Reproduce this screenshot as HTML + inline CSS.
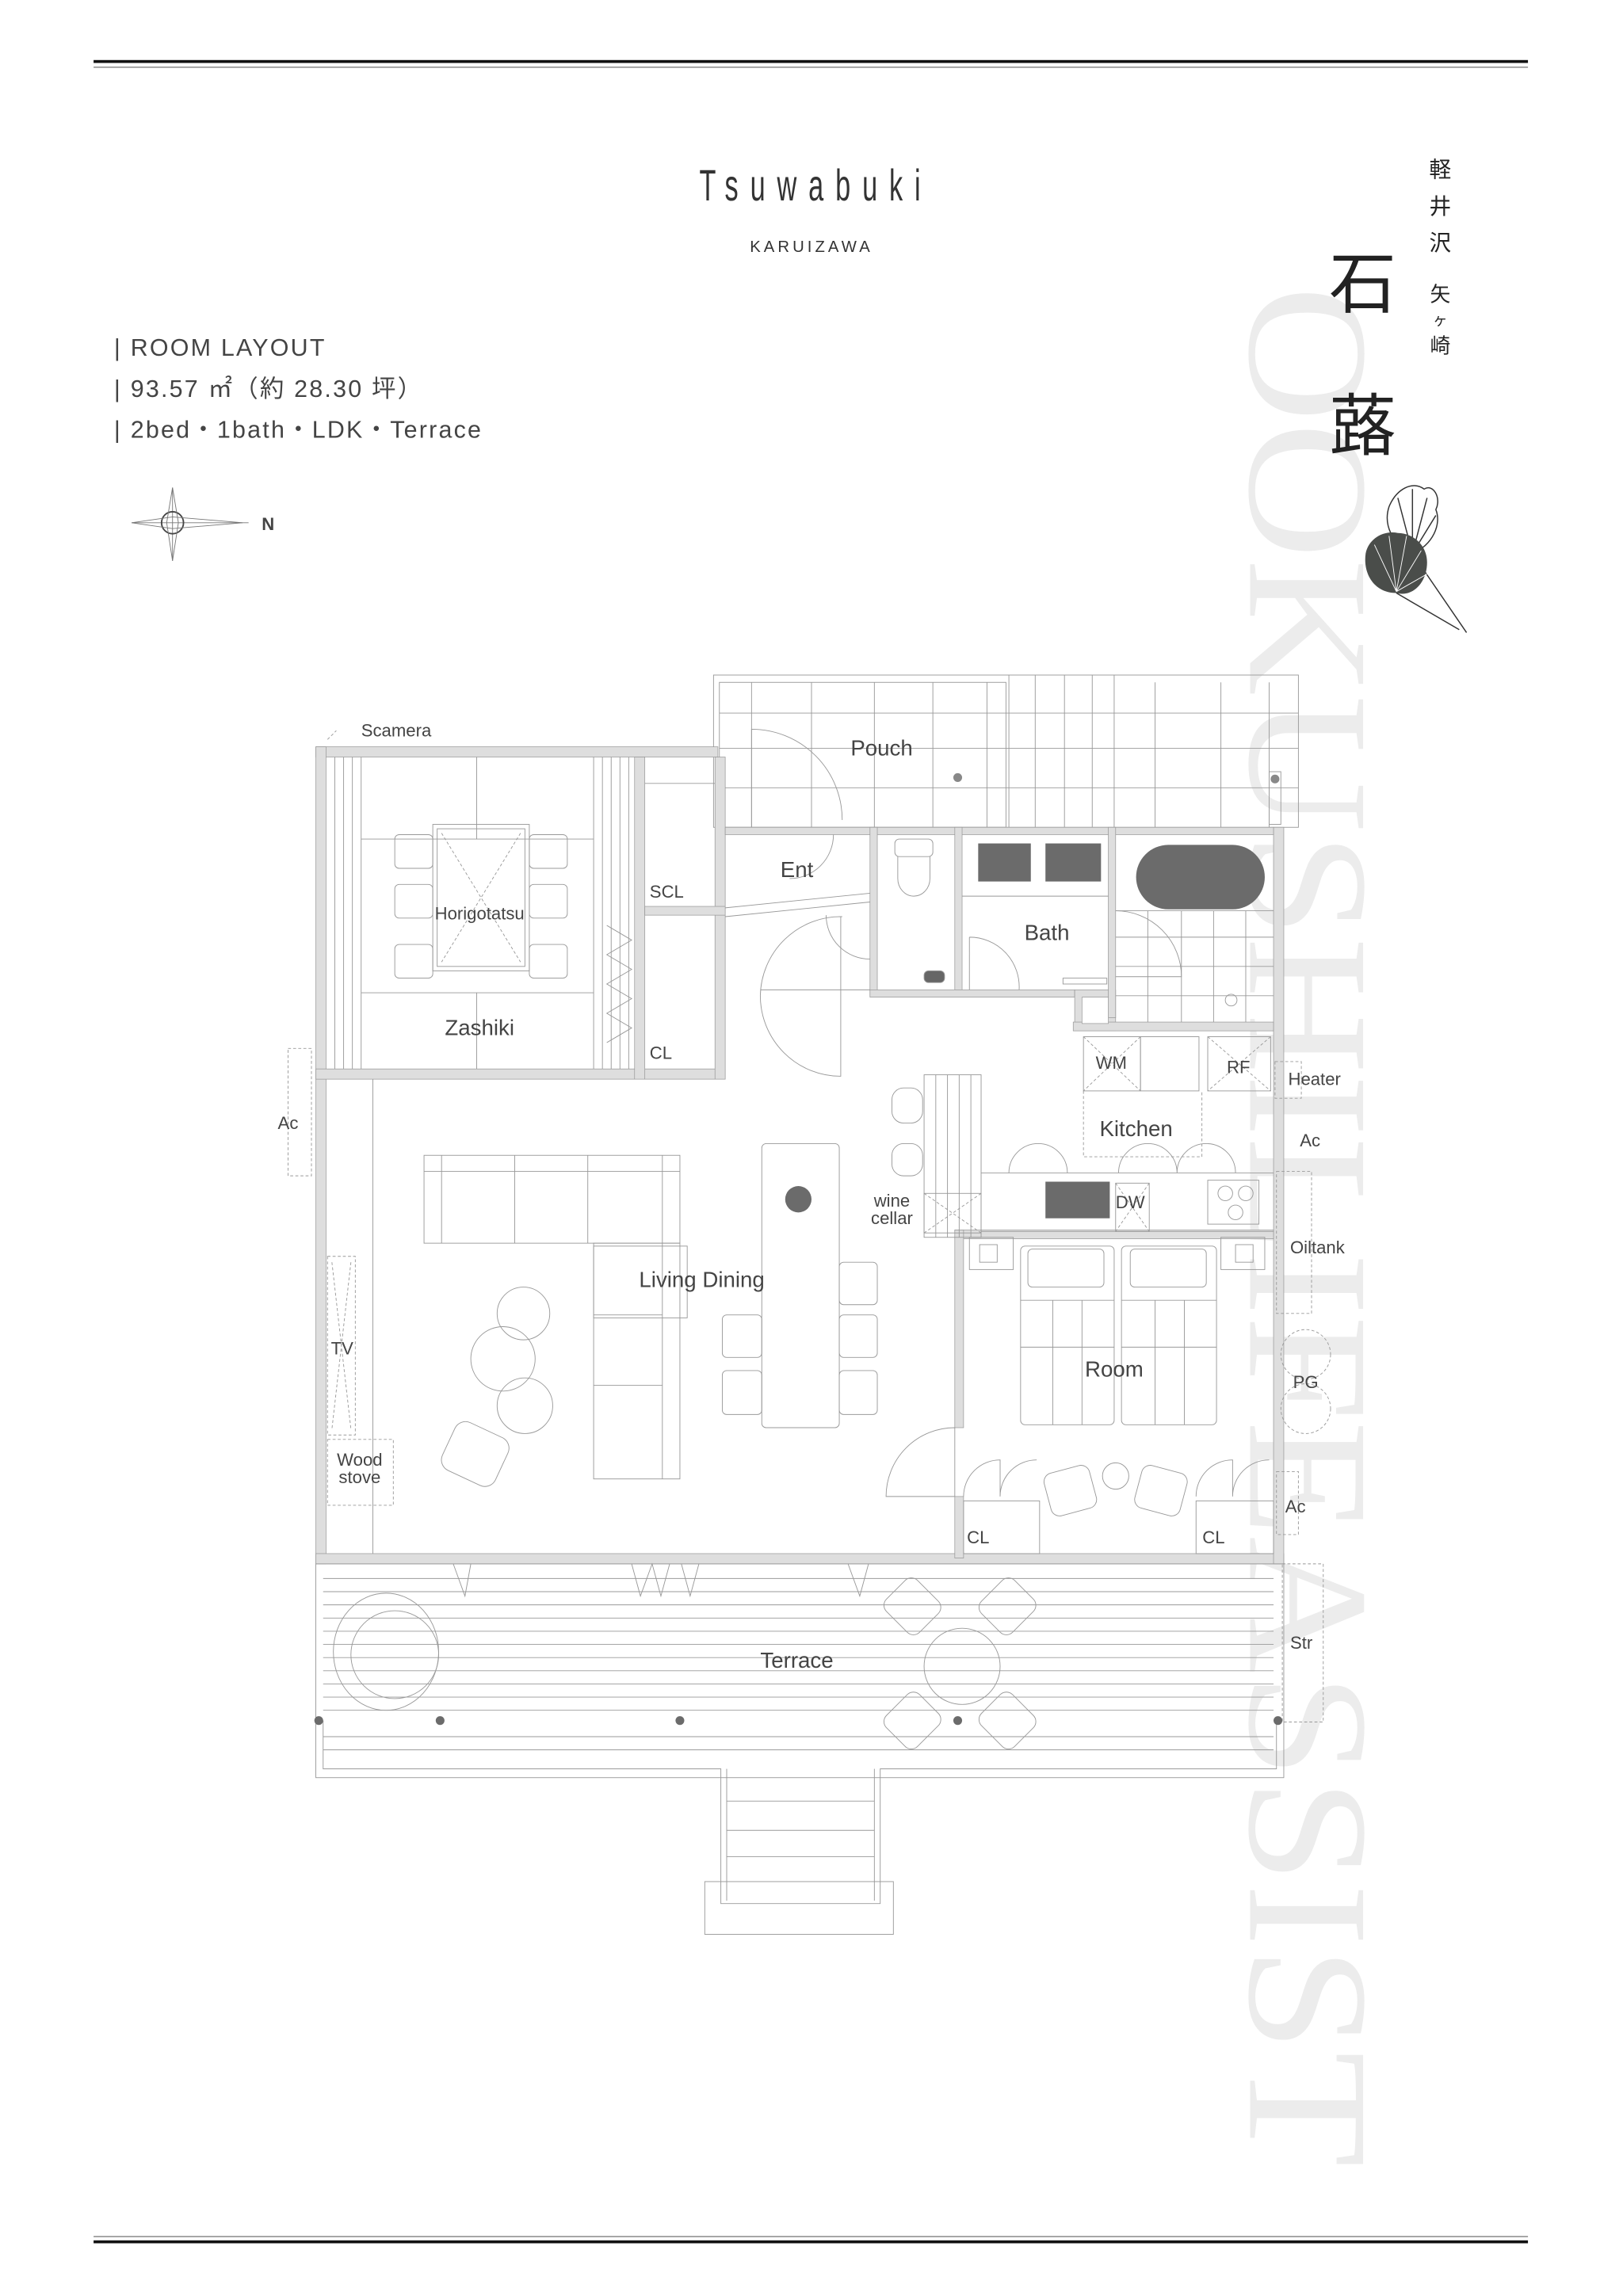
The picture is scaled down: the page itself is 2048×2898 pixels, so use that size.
<!DOCTYPE html>
<html><head><meta charset="utf-8"><style>
html,body{margin:0;padding:0;background:#fff;}
svg{display:block;}
text{font-family:"Liberation Sans","Noto Sans CJK JP",sans-serif;}
</style></head><body>
<svg width="2048" height="2898" viewBox="0 0 1110 1568" preserveAspectRatio="none" xmlns="http://www.w3.org/2000/svg">
<text transform="translate(855,195) rotate(90)" font-size="118" fill="#ececec" textLength="1285" lengthAdjust="spacingAndGlyphs" style="font-family:'Liberation Serif',serif">OOKUSHILIFEASSIST</text>

<rect x="64" y="41" width="981" height="2" fill="#111"/>
<rect x="64" y="45.5" width="981" height="0.8" fill="#888"/>
<rect x="64" y="1527" width="981" height="0.8" fill="#888"/>
<rect x="64" y="1530" width="981" height="2" fill="#111"/>

<text transform="translate(558,137) scale(0.62,1)" text-anchor="middle" font-size="30" fill="#333" letter-spacing="13">Tsuwabuki</text>
<text x="555" y="172" text-anchor="middle" font-size="11" fill="#333" letter-spacing="2.2">KARUIZAWA</text>

<g fill="#444" font-size="16.5" letter-spacing="1.2">
<text x="78" y="243">| ROOM LAYOUT</text>
<text x="78" y="271">| 93.57 ㎡（約 28.30 坪）</text>
<text x="78" y="299">| 2bed・1bath・LDK・Terrace</text>
</g>

<g stroke="#777" stroke-width="0.5" fill="none">
<line x1="90" y1="357" x2="170" y2="357"/><line x1="118" y1="333" x2="118" y2="383"/>
<circle cx="118" cy="357" r="7.5" stroke="#444" stroke-width="1"/>
<path d="M90 357 L118 353 L166 357 L118 361 Z M118 333 L114 357 L118 383 L122 357 Z"/>
</g>
<text x="179" y="362" font-size="12" font-weight="bold" fill="#444">N</text>

<g fill="#222" style="font-family:'Noto Serif CJK SC','Liberation Serif',serif">
<text x="985" y="121" font-size="15" text-anchor="middle">軽</text>
<text x="985" y="146" font-size="15" text-anchor="middle">井</text>
<text x="985" y="171" font-size="15" text-anchor="middle">沢</text>
<text x="985" y="206" font-size="14" text-anchor="middle">矢</text>
<text x="985" y="222" font-size="10" text-anchor="middle">ヶ</text>
<text x="985" y="241" font-size="14" text-anchor="middle">崎</text>
<text x="932" y="210" font-size="46" text-anchor="middle">石</text>
<text x="932" y="307" font-size="46" text-anchor="middle">蕗</text>
</g>
<g stroke="#333" stroke-width="0.8" fill="none">
<path d="M966 378 C952 372 946 358 950 346 C955 334 966 328 974 334 C980 330 986 340 982 348 C986 358 980 372 966 378 Z"/>
<path d="M966 378 L956 340 M966 378 L966 334 M966 378 L976 340 M966 378 L982 352"/>
<path d="M966 378 L1003 432 M955 405 L998 430"/>
</g>
<path d="M955 405 C940 405 932 392 934 378 C936 368 946 362 956 364 C966 364 976 372 976 384 C976 398 966 408 955 405 Z" fill="#4a4d4a"/>
<g stroke="#fff" stroke-width="0.5"><path d="M955 404 L940 372 M955 404 L950 366 M955 404 L962 366 M955 404 L972 376 M955 404 L976 392"/></g>

<g stroke="#999" stroke-width="0.5" fill="none">
<rect x="488" y="461" width="400" height="104"/>
<rect x="492" y="466" width="196" height="99"/>
<path d="M492 487 H888 M492 511 H888 M492 538 H888"/>
<path d="M514 466 V565 M555 466 V565 M598 466 V565 M638 466 V565 M675 466 V565 M690 461 V565 M708 461 V565 M728 461 V565 M747 461 V565 M762 461 V565 M790 466 V565 M835 466 V565 M868 466 V565"/>
<path d="M514 498 A62 62 0 0 1 576 560 M514 498 V565"/>
<rect x="868" y="527" width="8" height="36"/>
</g>
<circle cx="655" cy="531" r="3" fill="#888"/>
<circle cx="872" cy="532" r="3" fill="#888"/>

<g fill="#dedede" stroke="#999" stroke-width="0.4">
<rect x="216" y="510" width="275" height="7"/>
<rect x="216" y="510" width="7" height="558"/>
<rect x="216" y="1061" width="662" height="7"/>
<rect x="871" y="565" width="7" height="503"/>
<rect x="216" y="730" width="280" height="7"/>
<rect x="434" y="517" width="7" height="220"/>
<rect x="489" y="517" width="7" height="220"/>
<rect x="441" y="619" width="55" height="6"/>
<rect x="496" y="565" width="375" height="5"/>
<rect x="595" y="565" width="5" height="115"/>
<rect x="653" y="565" width="5" height="115"/>
<rect x="595" y="676" width="140" height="5"/>
<rect x="735" y="676" width="28" height="28"/>
<rect x="758" y="565" width="5" height="130"/>
<rect x="734" y="698" width="137" height="6"/>
<rect x="653" y="840" width="218" height="6"/>
<rect x="653" y="840" width="6" height="135"/>
<rect x="653" y="1022" width="6" height="42"/>
</g>
<rect x="740" y="681" width="18" height="18" fill="#fff" stroke="#999" stroke-width="0.4"/>

<g stroke="#999" stroke-width="0.5" fill="none">
<path d="M229 517 V730 M235 517 V730 M241 517 V730 M247 517 V730 M406 517 V730 M412 517 V730 M418 517 V730 M424 517 V730 M430 517 V730"/>
<path d="M247 573 H406 M247 678 H406 M326 517 V573 M326 678 V730"/>
<rect x="296" y="563" width="66" height="100"/>
<rect x="299" y="566" width="60" height="94"/>
<path d="M302 569 L356 657 M356 569 L302 657" stroke-dasharray="2 1.5"/>
<rect x="270" y="570" width="26" height="23" rx="3"/><rect x="270" y="604" width="26" height="23" rx="3"/><rect x="270" y="645" width="26" height="23" rx="3"/>
<rect x="362" y="570" width="26" height="23" rx="3"/><rect x="362" y="604" width="26" height="23" rx="3"/><rect x="362" y="645" width="26" height="23" rx="3"/>
<path d="M415 632 L432 642 L415 652 L432 662 L415 672 L432 682 L415 692 L432 702 L415 712"/>
<path d="M441 535 H489"/>
<path d="M496 620 L595 610 M496 626 L595 616"/>
<path d="M520 676 H595"/>
<path d="M570 570 A30 30 0 0 1 540 600"/>
<path d="M576 626 A55 55 0 0 0 520 680 A55 55 0 0 0 575 735 V626"/>
<path d="M565 625 A30 30 0 0 0 595 655"/>
<rect x="612" y="573" width="26" height="12" rx="3"/>
<path d="M614 585 V600 A11 12 0 0 0 636 600 V585"/>
<rect x="632" y="663" width="14" height="8" rx="3" fill="#666"/>
<path d="M658 612 H758"/>
<path d="M663 640 A34 34 0 0 1 697 676 M663 640 V676"/>
<rect x="727" y="668" width="30" height="4"/>
<path d="M763 622 H871 M763 640 H871 M763 660 H871 M763 680 H871 M785 622 V698 M808 622 V698 M830 622 V698 M852 622 V698"/>
<path d="M763 622 A45 45 0 0 1 808 667 L763 667"/>
<circle cx="842" cy="683" r="4"/>
<path d="M255 737 V1061"/>
<rect x="224" y="858" width="19" height="122" stroke-dasharray="2 1.5"/>
<path d="M227 862 L240 976 M240 862 L227 976" stroke-dasharray="2 1.5"/>
<rect x="224" y="983" width="45" height="45" stroke-dasharray="2 1.5"/>
<rect x="290" y="789" width="175" height="60"/>
<path d="M302 789 V849 M352 789 V849 M402 789 V849 M453 789 V849 M290 800 H465"/>
<rect x="406" y="849" width="59" height="161"/>
<path d="M406 898 H453 M406 946 H453 M453 849 V1010"/>
<rect x="406" y="851" width="64" height="49"/>
<circle cx="358" cy="897" r="18"/><circle cx="344" cy="928" r="22"/><circle cx="359" cy="960" r="19"/>
<rect x="305" y="975" width="40" height="36" rx="8" transform="rotate(25 325 993)"/>
<rect x="521" y="781" width="53" height="194" rx="3"/>
<rect x="574" y="862" width="26" height="29" rx="3"/><rect x="574" y="898" width="26" height="29" rx="3"/><rect x="574" y="936" width="26" height="30" rx="3"/>
<rect x="494" y="898" width="27" height="29" rx="3"/><rect x="494" y="936" width="27" height="30" rx="3"/>
<rect x="610" y="743" width="21" height="24" rx="8"/><rect x="610" y="781" width="21" height="22" rx="8"/>
<rect x="632" y="734" width="39" height="111"/>
<path d="M640 734 V845 M648 734 V845 M656 734 V845 M664 734 V845"/>
<rect x="632" y="815" width="39" height="27"/>
<path d="M632 815 L671 842 M671 815 L632 842" stroke-dasharray="2 1.5"/>
<path d="M606 1022 A47 47 0 0 1 653 975 V1022 Z"/>
<path d="M310 1068 L318 1090 L322 1068 M432 1068 L438 1090 L446 1068 L452 1090 L458 1068 M466 1068 L472 1090 L478 1068 M580 1068 L588 1090 L594 1068"/>
<rect x="741" y="708" width="39" height="37"/>
<path d="M741 708 L780 745 M780 708 L741 745" stroke-dasharray="2 1.5"/>
<rect x="780" y="708" width="40" height="37"/>
<rect x="826" y="708" width="43" height="37"/>
<path d="M826 708 L869 745 M869 708 L826 745" stroke-dasharray="2 1.5"/>
<path d="M741 745 V790 H822 V745" stroke-dasharray="2 1.5"/>
<path d="M671 801 H871 M671 841 H871"/>
<rect x="763" y="808" width="23" height="33"/>
<path d="M763 808 L786 841 M786 808 L763 841" stroke-dasharray="2 1.5"/>
<rect x="826" y="806" width="35" height="30"/>
<circle cx="838" cy="815" r="5"/><circle cx="852" cy="815" r="5"/><circle cx="845" cy="828" r="5"/>
<path d="M690 801 A20 20 0 0 1 730 801 M765 801 A20 20 0 0 1 805 801 M805 801 A20 20 0 0 1 845 801"/>
<rect x="698" y="851" width="64" height="122" rx="3"/><rect x="767" y="851" width="65" height="122" rx="3"/>
<rect x="703" y="853" width="52" height="26" rx="3"/><rect x="773" y="853" width="52" height="26" rx="3"/>
<path d="M698 888 H762 M767 888 H832 M720 888 V973 M740 888 V973 M790 888 V973 M810 888 V973 M698 920 H762 M767 920 H832"/>
<rect x="670" y="850" width="12" height="12"/><rect x="845" y="850" width="12" height="12"/>
<rect x="663" y="845" width="30" height="22"/><rect x="835" y="845" width="30" height="22"/>
<path d="M659 1022 A25 25 0 0 1 684 997 V1022 M684 1022 A25 25 0 0 1 709 997 M818 1022 A25 25 0 0 1 843 997 V1022 M843 1022 A25 25 0 0 1 868 997"/>
<rect x="659" y="1025" width="52" height="36"/><rect x="818" y="1025" width="53" height="36"/>
<rect x="716" y="1003" width="32" height="30" rx="6" transform="rotate(-15 732 1018)"/>
<rect x="778" y="1003" width="32" height="30" rx="6" transform="rotate(15 794 1018)"/>
<circle cx="763" cy="1008" r="9"/>
<g stroke-dasharray="2 1.5">
<rect x="197" y="716" width="16" height="87"/>
<rect x="872" y="725" width="18" height="25"/>
<rect x="873" y="800" width="24" height="97"/>
<circle cx="893" cy="925" r="17"/><circle cx="893" cy="962" r="17"/>
<rect x="873" y="1005" width="15" height="43"/>
<rect x="877" y="1068" width="28" height="108"/>
<path d="M224 505 L230 499"/>
</g>
<rect x="216" y="1068" width="662" height="146"/>
<path d="M221 1078 H871 M221 1087 H871 M221 1096 H871 M221 1105 H871 M221 1114 H871 M221 1123 H871 M221 1132 H871 M221 1141 H871 M221 1150 H871 M221 1159 H871 M221 1168 H871 M221 1186 H871 M221 1195 H871"/>
<path d="M221 1175 V1208 H493 V1300 H602 V1208 H873 V1175"/>
<path d="M497 1208 V1298 M598 1208 V1298 M497 1230 H598 M497 1250 H598 M497 1268 H598"/>
<rect x="482" y="1285" width="129" height="36"/>
<ellipse cx="264" cy="1128" rx="36" ry="40"/><ellipse cx="270" cy="1130" rx="30" ry="30"/>
<circle cx="658" cy="1138" r="26"/>
<rect x="608" y="1082" width="32" height="30" rx="6" transform="rotate(45 624 1097)"/>
<rect x="673" y="1082" width="32" height="30" rx="6" transform="rotate(-45 689 1097)"/>
<rect x="608" y="1160" width="32" height="30" rx="6" transform="rotate(-45 624 1175)"/>
<rect x="673" y="1160" width="32" height="30" rx="6" transform="rotate(45 689 1175)"/>
</g>
<g fill="#6b6b6b">
<rect x="669" y="576" width="36" height="26"/><rect x="715" y="576" width="38" height="26"/>
<rect x="777" y="577" width="88" height="44" rx="22"/>
<rect x="715" y="807" width="44" height="25"/>
<circle cx="546" cy="819" r="9"/>
<circle cx="218" cy="1175" r="3"/><circle cx="301" cy="1175" r="3"/><circle cx="465" cy="1175" r="3"/><circle cx="655" cy="1175" r="3"/><circle cx="874" cy="1175" r="3"/>
</g>

<g fill="#444" font-size="15" text-anchor="middle">
<text x="603" y="516">Pouch</text>
<text x="545" y="599">Ent</text>
<text x="716" y="642">Bath</text>
<text x="328" y="707">Zashiki</text>
<text x="777" y="776">Kitchen</text>
<text x="480" y="879">Living Dining</text>
<text x="762" y="940">Room</text>
<text x="545" y="1139">Terrace</text>
</g>
<g fill="#444" font-size="12" text-anchor="middle">
<text x="271" y="503">Scamera</text>
<text x="328" y="628">Horigotatsu</text>
<text x="456" y="613">SCL</text>
<text x="452" y="723">CL</text>
<text x="760" y="730">WM</text>
<text x="847" y="733">RF</text>
<text x="899" y="741">Heater</text>
<text x="896" y="783">Ac</text>
<text x="197" y="771">Ac</text>
<text x="610" y="824">wine</text>
<text x="610" y="836">cellar</text>
<text x="773" y="825">DW</text>
<text x="901" y="856">Oiltank</text>
<text x="234" y="925">TV</text>
<text x="893" y="948">PG</text>
<text x="246" y="1001">Wood</text>
<text x="246" y="1013">stove</text>
<text x="886" y="1033">Ac</text>
<text x="669" y="1054">CL</text>
<text x="830" y="1054">CL</text>
<text x="890" y="1126">Str</text>
</g>
</svg>
</body></html>
